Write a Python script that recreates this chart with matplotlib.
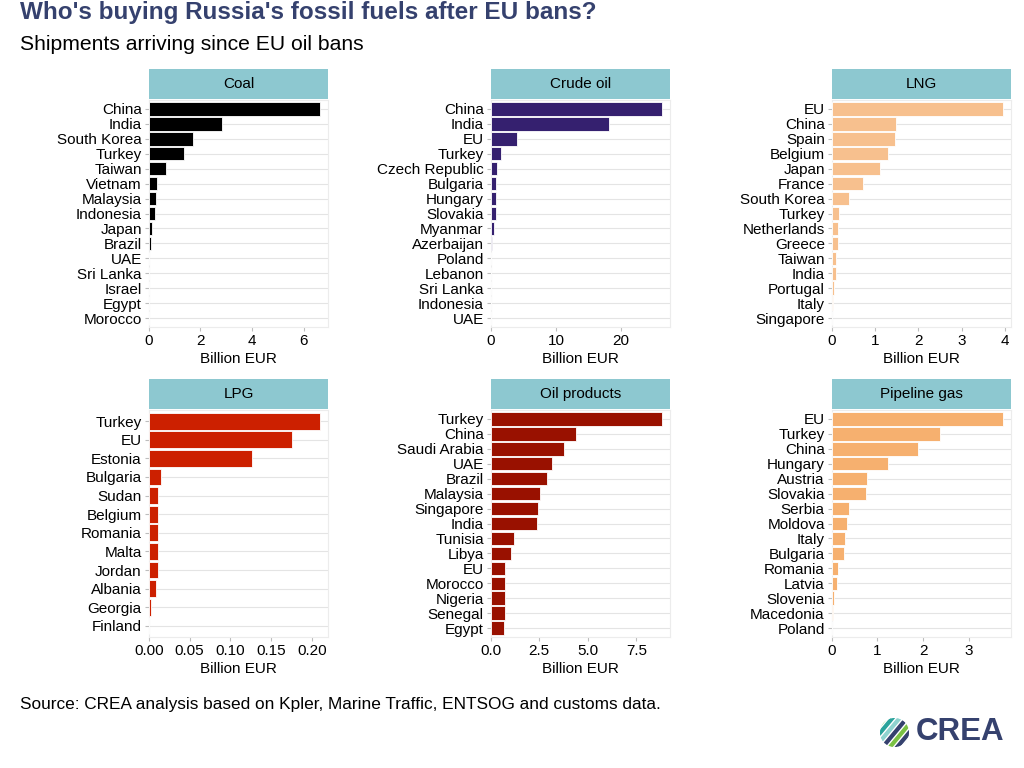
import numpy as np
import matplotlib
matplotlib.use('Agg')
import matplotlib.pyplot as plt
from matplotlib.patches import Rectangle, Circle, Polygon

plt.rcParams['font.family'] = ['Liberation Sans', 'DejaVu Sans']

TITLE = "Who's buying Russia's fossil fuels after EU bans?"
SUBTITLE = 'Shipments arriving since EU oil bans'
SOURCE = 'Source: CREA analysis based on Kpler, Marine Traffic, ENTSOG and customs data.'

coal_countries = ['China', 'India', 'South Korea', 'Turkey', 'Taiwan', 'Vietnam', 'Malaysia',
                  'Indonesia', 'Japan', 'Brazil', 'UAE', 'Sri Lanka', 'Israel', 'Egypt', 'Morocco']
coal_values = [6.62, 2.82, 1.72, 1.36, 0.66, 0.31, 0.28, 0.23, 0.12, 0.07, 0.03, 0.02, 0.02, 0.01, 0.005]

crude_countries = ['China', 'India', 'EU', 'Turkey', 'Czech Republic', 'Bulgaria', 'Hungary',
                   'Slovakia', 'Myanmar', 'Azerbaijan', 'Poland', 'Lebanon', 'Sri Lanka',
                   'Indonesia', 'UAE']
crude_values = [26.2, 18.1, 4.04, 1.59, 0.97, 0.87, 0.85, 0.77, 0.46, 0.15, 0.05, 0.03, 0.02, 0.01, 0.01]

lng_countries = ['EU', 'China', 'Spain', 'Belgium', 'Japan', 'France', 'South Korea', 'Turkey',
                 'Netherlands', 'Greece', 'Taiwan', 'India', 'Portugal', 'Italy', 'Singapore']
lng_values = [3.95, 1.48, 1.46, 1.29, 1.12, 0.72, 0.39, 0.18, 0.15, 0.14, 0.09, 0.09, 0.05, 0.02, 0.01]

lpg_countries = ['Turkey', 'EU', 'Estonia', 'Bulgaria', 'Sudan', 'Belgium', 'Romania', 'Malta',
                 'Jordan', 'Albania', 'Georgia', 'Finland']
lpg_values = [0.209, 0.175, 0.126, 0.0146, 0.0114, 0.0113, 0.0112, 0.0111, 0.011, 0.0089, 0.0028, 0.0002]

oilprod_countries = ['Turkey', 'China', 'Saudi Arabia', 'UAE', 'Brazil', 'Malaysia', 'Singapore',
                     'India', 'Tunisia', 'Libya', 'EU', 'Morocco', 'Nigeria', 'Senegal', 'Egypt']
oilprod_values = [8.8, 4.41, 3.76, 3.17, 2.90, 2.56, 2.45, 2.40, 1.20, 1.03, 0.75, 0.74, 0.74, 0.72, 0.70]

pipe_countries = ['EU', 'Turkey', 'China', 'Hungary', 'Austria', 'Slovakia', 'Serbia', 'Moldova',
                  'Italy', 'Bulgaria', 'Romania', 'Latvia', 'Slovenia', 'Macedonia', 'Poland']
pipe_values = [3.74, 2.38, 1.88, 1.23, 0.78, 0.74, 0.38, 0.34, 0.29, 0.28, 0.13, 0.12, 0.04, 0.03, 0.005]

panels = [
    ('Coal', coal_countries, coal_values, '#000000', [0, 2, 4, 6], ['0', '2', '4', '6']),
    ('Crude oil', crude_countries, crude_values, '#35206f', [0, 10, 20], ['0', '10', '20']),
    ('LNG', lng_countries, lng_values, '#f7c08e', [0, 1, 2, 3, 4], ['0', '1', '2', '3', '4']),
    ('LPG', lpg_countries, lpg_values, '#cc2000', [0, 0.05, 0.10, 0.15, 0.20],
     ['0.00', '0.05', '0.10', '0.15', '0.20']),
    ('Oil products', oilprod_countries, oilprod_values, '#991100', [0, 2.5, 5.0, 7.5],
     ['0.0', '2.5', '5.0', '7.5']),
    ('Pipeline gas', pipe_countries, pipe_values, '#f6b06f', [0, 1, 2, 3], ['0', '1', '2', '3']),
]

STRIP = '#8dc8d0'
GRID = '#e4e4e4'

W, H = 1024, 768
fig = plt.figure(figsize=(W / 100, H / 100), dpi=100)

lefts = [148.7, 490.7, 831.7]
tops = [100, 410]
pw, ph = 179.5, 227


def draw_panel(ax, title, countries, values, color, ticks, ticklabels):
    n = len(countries)
    y = np.arange(n)
    ax.barh(y, values, height=0.9, color=color, edgecolor='white', linewidth=0.6, zorder=3)
    ax.set_ylim(n - 1 + 0.6, -0.6)
    ax.set_xlim(0, max(values) * 1.05)
    ax.set_yticks(y)
    ax.set_yticklabels(countries, fontsize=11)
    ax.set_xticks(ticks)
    ax.set_xticklabels(ticklabels, fontsize=11)
    ax.tick_params(axis='both', length=3, width=0.8, color='#bdbdbd', pad=2, labelcolor='black')
    ax.grid(axis='y', color=GRID, linewidth=0.8, zorder=0)
    ax.set_axisbelow(True)
    for s in ax.spines.values():
        s.set_color('#ececec')
        s.set_linewidth(0.8)
    ax.set_xlabel('Billion EUR', fontsize=11, labelpad=3)
    # facet strip
    bb = ax.get_position()
    sax = fig.add_axes([bb.x0, bb.y1 + 1 / H, bb.width, 30 / H])
    sax.add_patch(Rectangle((0, 0), 1, 1, color=STRIP, transform=sax.transAxes))
    sax.text(0.5, 0.5, title, ha='center', va='center', fontsize=11, transform=sax.transAxes)
    sax.set_axis_off()


i = 0
for top in tops:
    for left in lefts:
        ax = fig.add_axes([left / W, 1 - (top + ph) / H, pw / W, ph / H])
        draw_panel(ax, *panels[i])
        i += 1

fig.text(20 / W, 1 - 13 / H, TITLE, fontsize=17.5, fontweight='bold', color='#35416e',
         ha='left', va='center')
fig.text(20 / W, 1 - 45 / H, SUBTITLE, fontsize=15.2, color='black', ha='left', va='center')
fig.text(20 / W, 1 - 704 / H, SOURCE, fontsize=12.4, color='black', ha='left', va='center')

# CREA logo
lax = fig.add_axes([880 / W, 1 - 747 / H, 29 / W, 29 / H])
lax.set_xlim(-1, 1)
lax.set_ylim(-1, 1)
lax.set_aspect('equal')
lax.set_axis_off()
clip = Circle((0, 0), 1, transform=lax.transData)
stripe_cols = ['#7ac143', '#2aa39b', '#8fd3cf', '#35416e', '#7ac143', '#35416e', '#2aa39b']
for k, c in enumerate(stripe_cols):
    o = -1.6 + k * 0.5
    p = Polygon([(o - 1, -1.2), (o - 0.75, -1.2), (o + 1.25, 1.2), (o + 1, 1.2)],
                closed=True, color=c)
    p.set_clip_path(clip)
    lax.add_patch(p)
fig.text(916 / W, 1 - 732 / H, 'CREA', fontsize=22.5, fontweight='bold', color='#35416e',
         ha='left', va='center')

fig.savefig('out.png', dpi=100)
